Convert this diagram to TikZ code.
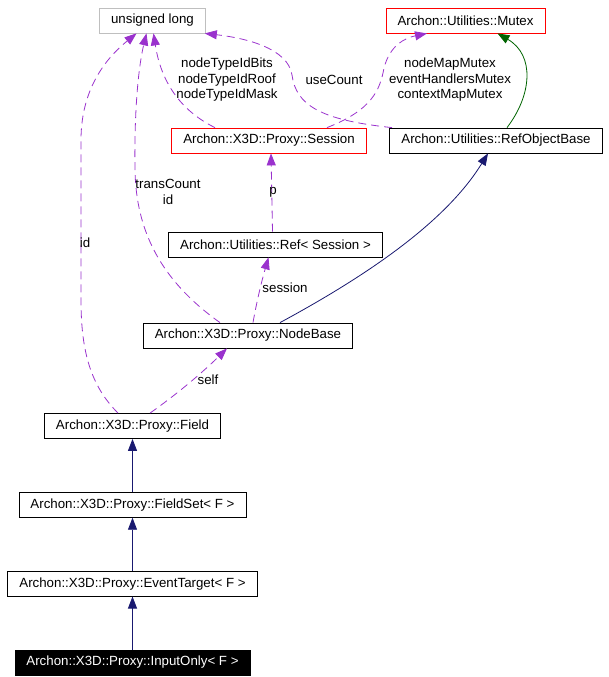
\documentclass[tikz,border=0pt]{standalone}
\usepackage{fontspec}
\setmainfont{Liberation Sans}
\usetikzlibrary{arrows.meta,positioning,calc}
\definecolor{usepurple}{HTML}{9A32CD}
\definecolor{inhnavy}{HTML}{191970}
\definecolor{tmplgreen}{HTML}{006400}
\definecolor{extgray}{HTML}{BFBFBF}

\begin{document}
\begin{tikzpicture}[
    x=1pt, y=-1pt,
    node distance=53pt,
    cls/.style={draw, line width=0.8pt, minimum height=25pt, inner xsep=11.5pt, inner ysep=0pt,
                font=\fontsize{13.3}{15.5}\selectfont},
    extcls/.style={cls, draw=extgray},
    redcls/.style={cls, draw=red},
    thiscls/.style={cls, fill=black, text=white},
    lbl/.style={font=\fontsize{13.3}{15.5}\selectfont, align=center, inner sep=0pt},
    usearrow/.style={-{Triangle[length=12pt, width=9pt]}, line width=0.8pt, usepurple,
                     dash pattern=on 8pt off 5pt},
    inharrow/.style={-{Triangle[length=12pt, width=9pt]}, line width=0.8pt, inhnavy},
    tmplarrow/.style={-{Triangle[length=12pt, width=9pt]}, line width=0.8pt, tmplgreen},
]
\useasboundingbox (0,0) rectangle (609,677);

% Top row
\node[extcls] (ulong) at (152.5,20.5) {unsigned long};
\node[redcls] (mutex) at (465.5,20.5) {Archon::Utilities::Mutex};

% Session and RefObjectBase
\node[redcls] (session) at (269,140.5) {Archon::X3D::Proxy::Session};
\node[cls] (refobj) at (496,140.5) {Archon::Utilities::RefObjectBase};

% Ref and NodeBase
\node[cls] (ref) at (275.5,244.5) {Archon::Utilities::Ref< Session >};
\node[cls] (nodebase) at (248,335.5) {Archon::X3D::Proxy::NodeBase};

% Field chain
\node[cls] (field) at (132.5,426) {Archon::X3D::Proxy::Field};
\node[cls, below=of field] (fieldset) {Archon::X3D::Proxy::FieldSet< F >};
\node[cls, below=of fieldset] (evtarget) {Archon::X3D::Proxy::EventTarget< F >};
\node[thiscls, below=of evtarget] (inputonly) {Archon::X3D::Proxy::InputOnly< F >};

% Inheritance
\draw[inharrow] (inputonly) -- (evtarget);
\draw[inharrow] (evtarget) -- (fieldset);
\draw[inharrow] (fieldset) -- (field);
\draw[inharrow] ([xshift=32pt]nodebase.north) .. controls (383,267) and (450,215) .. ([xshift=-8pt]refobj.south);

% Template / member usage
\draw[tmplarrow] ([xshift=11pt]refobj.north) .. controls (532,95) and (535,55) .. ([xshift=32pt]mutex.south);

\draw[usearrow] ([xshift=-14.5pt]field.north) .. controls (90,385) and (81,350) .. (81,300)
    -- (81,140) .. controls (81,85) and (110,55) .. ([xshift=-16pt]ulong.south);
\draw[usearrow] ([xshift=-28pt]nodebase.north) .. controls (160,280) and (136,230) .. (135,170)
    .. controls (134,100) and (140,60) .. ([xshift=-6pt]ulong.south);
\draw[usearrow] ([xshift=-54pt]session.north) .. controls (175,108) and (160,75) .. ([xshift=1pt]ulong.south);
\draw[usearrow] ([xshift=-104pt]refobj.north) .. controls (320,120) and (296,105) .. (292,75)
    .. controls (288,48) and (245,38) .. ([xshift=-1pt]ulong.south east);
\draw[usearrow] ([xshift=58pt]session.north) .. controls (372,110) and (380,90) .. (384,68)
    .. controls (390,45) and (405,38) .. ([xshift=-38.5pt]mutex.south);
\draw[usearrow] ([xshift=-3pt]ref.north) -- ([xshift=2pt]session.south);
\draw[usearrow] ([xshift=5pt]nodebase.north) .. controls (257,300) and (262,280) .. ([xshift=-7pt]ref.south);
\draw[usearrow] ([xshift=17.5pt]field.north) .. controls (180,392) and (205,370) .. ([xshift=-21pt]nodebase.south);

% Edge labels
\node[lbl] (lid) at (85,243) {id};
\node[lbl] (ltrans) at (168,192) {transCount\\id};
\node[lbl] (lnodetype) at (227,80) {nodeTypeIdBits\\nodeTypeIdRoof\\nodeTypeIdMask};
\node[lbl] (lusecount) at (334,80) {useCount};
\node[lbl] (lmutexes) at (450,80) {nodeMapMutex\\eventHandlersMutex\\contextMapMutex};
\node[lbl] (lp) at (273,192) {p};
\node[lbl] (lsession) at (285,288) {session};
\node[lbl] (lself) at (208,380) {self};

\end{tikzpicture}
\end{document}
